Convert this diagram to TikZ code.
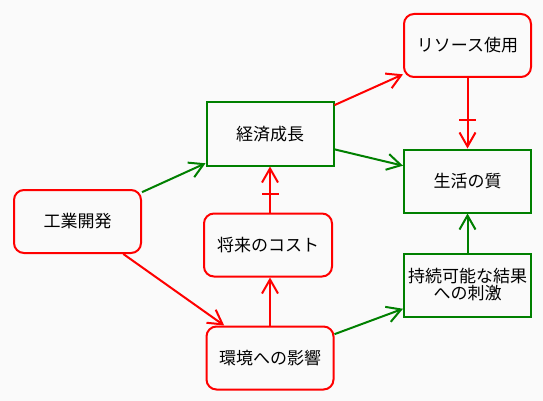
\documentclass[tikz,border=0pt]{standalone}
\usepackage{fontspec}
\newfontfamily\jp{Noto Sans CJK JP}
\usetikzlibrary{arrows.meta,decorations.markings}
\definecolor{dgreen}{RGB}{0,128,0}
\definecolor{bgc}{RGB}{250,250,250}
\begin{document}
\begin{tikzpicture}[x=1pt,y=-1pt,
  base/.style={minimum width=127pt, minimum height=63pt, line width=2pt,
    font=\jp\fontsize{17}{17}\selectfont, align=center, inner sep=0pt, text=black},
  rbox/.style={base, draw=red, rounded corners=10pt},
  gbox/.style={base, draw=dgreen},
  arr/.style={line width=2pt, -{Straight Barb[length=14pt,width=16pt]}},
  redarr/.style={arr, draw=red},
  grnarr/.style={arr, draw=dgreen},
  teebar/.style={postaction={decorate}, decoration={markings,
    mark=at position #1 with {\draw[red, line width=2pt, -] (0,-8.5pt) -- (0,8.5pt);}}}
]
\fill[bgc] (0,0) rectangle (543,401);
\useasboundingbox (0,0) rectangle (543,401);

\node[rbox] (ind) at (77.5,221.5) {工業開発};
\node[gbox] (eco) at (270,134) {経済成長};
\node[rbox] (res) at (467.5,45.5) {リソース使用};
\node[gbox] (qol) at (467.5,181) {生活の質};
\node[rbox, minimum width=128pt] (fut) at (268,245) {将来のコスト};
\node[rbox] (env) at (270,358) {環境への影響};
\node[gbox] (sus) at (467.5,285) {持続可能な結果\\への刺激};

\draw[grnarr] (ind) -- (eco);
\draw[redarr] (ind) -- (env);
\draw[redarr] (env.north) -- (env.north |- fut.south);
\draw[redarr, teebar=0.4] (eco.south |- fut.north) -- (eco.south);
\draw[redarr] (eco) -- (res);
\draw[grnarr] (eco) -- (qol);
\draw[redarr, teebar=0.6] (res.south) -- (qol.north);
\draw[grnarr] (sus.north) -- (qol.south);
\draw[grnarr] (env) -- (sus);
\end{tikzpicture}
\end{document}
